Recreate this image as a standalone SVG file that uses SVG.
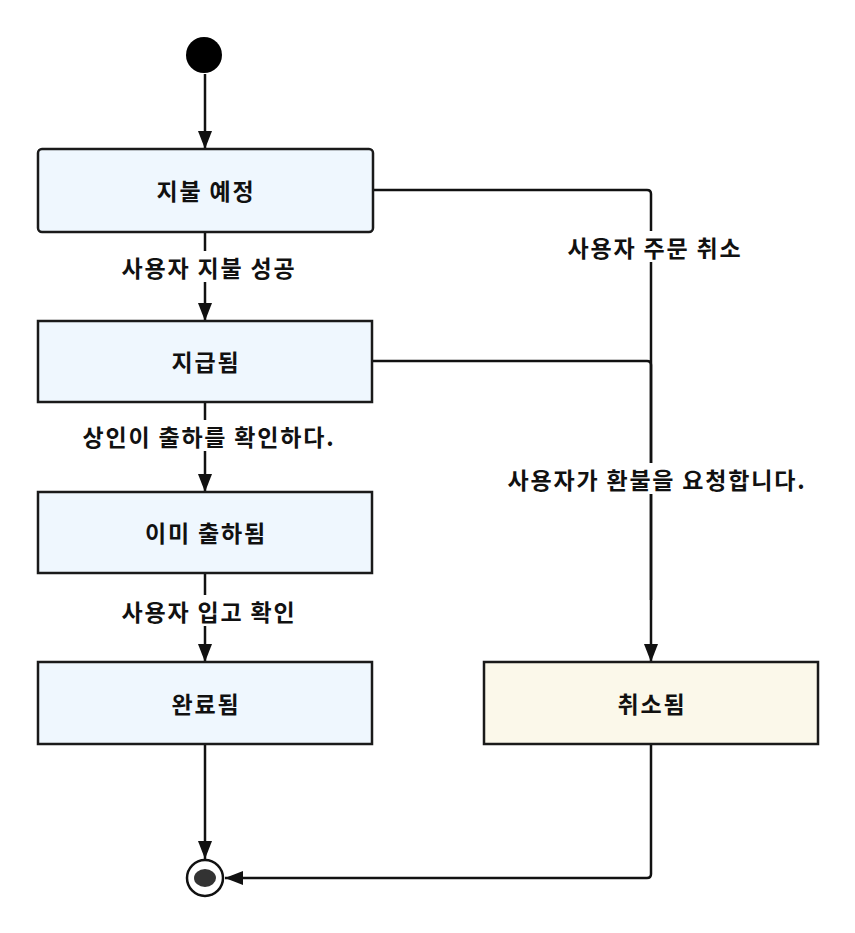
<svg xmlns="http://www.w3.org/2000/svg" width="855" height="933" viewBox="0 0 855 933">
<style>
  text { font-family: "Noto Sans CJK KR", "Noto Sans", sans-serif; font-weight: bold; font-size: 23px; letter-spacing: 1.8px; fill: #111; text-anchor: middle; dominant-baseline: central; }
  .box { fill: #EFF7FE; stroke: #1a1a1a; stroke-width: 2.5; }
  .cancel { fill: #FBF8EA; stroke: #1a1a1a; stroke-width: 2.5; }
  .conn { fill: none; stroke: #111; stroke-width: 2.5; }
  .lblbg { fill: #fff; }
</style>
<defs>
  <marker id="arr" markerUnits="userSpaceOnUse" markerWidth="18" markerHeight="14" refX="18" refY="7" orient="auto">
    <path d="M0,0 L18,7 L0,14 z" fill="#111"/>
  </marker>
</defs>
<rect width="855" height="933" fill="#fff"/>

<g id="connectors">
  <path class="conn" d="M205,74 V149" marker-end="url(#arr)"/>
  <path class="conn" d="M205,232 V321" marker-end="url(#arr)"/>
  <path class="conn" d="M205,402 V492" marker-end="url(#arr)"/>
  <path class="conn" d="M205,573 V662" marker-end="url(#arr)"/>
  <path class="conn" d="M205,744 V859" marker-end="url(#arr)"/>
  <path class="conn" d="M373,190 H647 Q651,190 651,194 V662" marker-end="url(#arr)"/>
  <path class="conn" d="M372,361 H647 Q651,361 651,365 V600"/>
  <path class="conn" d="M651,744 V874 Q651,878 647,878 H225" marker-end="url(#arr)"/>
  <g id="labels">
    <rect class="lblbg" x="117" y="251" width="182" height="31"/>
    <text x="209" y="267">사용자 지불 성공</text>
    <rect class="lblbg" x="79" y="420" width="257" height="31"/>
    <text x="209" y="436">상인이 출하를 확인하다.</text>
    <rect class="lblbg" x="117" y="595" width="182" height="31"/>
    <text x="209" y="611">사용자 입고 확인</text>
    <rect class="lblbg" x="562" y="231" width="182" height="31"/>
    <text x="655" y="247">사용자 주문 취소</text>
    <rect class="lblbg" x="502" y="463" width="306" height="31"/>
    <text x="657" y="479">사용자가 환불을 요청합니다.</text>
  </g>
</g>

<g id="start">
  <circle cx="204" cy="55" r="18" fill="#000"/>
</g>
<g id="node-pending">
  <rect class="box" x="38" y="149" width="335" height="83" rx="4"/>
  <text x="206" y="190">지불 예정</text>
</g>
<g id="node-paid">
  <rect class="box" x="38" y="321" width="334" height="81"/>
  <text x="206" y="361">지급됨</text>
</g>
<g id="node-shipped">
  <rect class="box" x="38" y="492" width="334" height="81"/>
  <text x="206" y="532">이미 출하됨</text>
</g>
<g id="node-done">
  <rect class="box" x="38" y="662" width="334" height="82"/>
  <text x="206" y="703">완료됨</text>
</g>
<g id="node-cancelled">
  <rect class="cancel" x="484" y="662" width="334" height="82"/>
  <text x="652" y="703">취소됨</text>
</g>
<g id="end">
  <circle cx="205" cy="878" r="18" fill="#fff" stroke="#111" stroke-width="2.5"/>
  <ellipse cx="205" cy="878" rx="11" ry="9" fill="#333"/>
</g>
</svg>
